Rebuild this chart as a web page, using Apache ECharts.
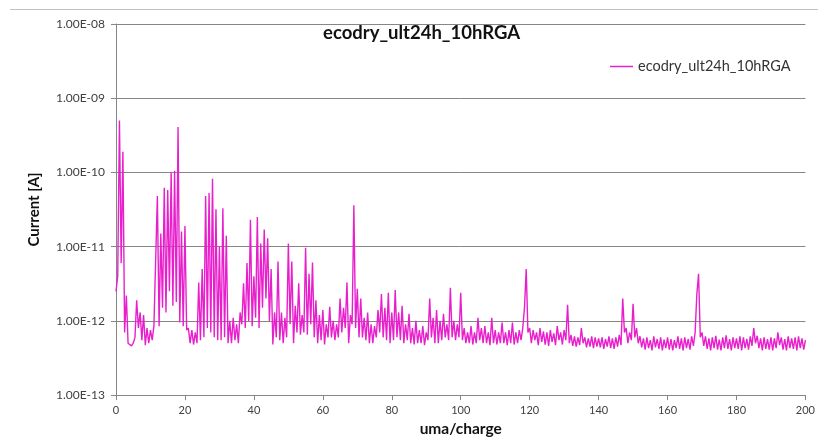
<!DOCTYPE html>
<html>
<head>
<meta charset="utf-8">
<title>ecodry_ult24h_10hRGA</title>
<script src="https://cdn.jsdelivr.net/npm/echarts@6.0.0/dist/echarts.min.js"></script>
<style>
    html, body { margin: 0; padding: 0; background: #fff; }
    #chart1 { width: 818px; height: 442px; }
</style>
</head>
<body>
<div id="chart1"></div>
<script>
// current, in pA (1e-12 A)
// value at each integer uma/charge, 0..200
var peakPA = [
    2.5, 500, 190, 2.2, 0.48, 0.5, 1.9, 1.3, 1.2, 0.8,
    0.75, 0.85, 48, 15, 62, 58, 100, 105, 410, 16,
    19, 0.8, 0.75, 0.7, 3.3, 5, 48, 53, 82, 32,
    10, 33, 14, 1.0, 1.1, 0.9, 1.3, 3.2, 6, 23,
    4, 25, 11, 17, 13, 5, 1.3, 6.3, 1.3, 1.1,
    11, 6.3, 1.6, 3.2, 1.2, 9.7, 4.3, 6.1, 1.9, 1.2,
    1.4, 0.9, 1.55, 1.0, 0.9, 2.0, 1.5, 3.3, 1.2, 36,
    2.7, 2.0, 1.1, 1.3, 0.9, 0.85, 1.4, 2.3, 1.5, 2.4,
    1.3, 2.6, 1.3, 1.6, 0.9, 1.25, 0.8, 1.0, 0.75, 0.85,
    0.7, 2.0, 1.1, 1.4, 1.0, 1.25, 0.9, 2.8, 1.0, 0.9,
    2.4, 0.8, 0.7, 0.85, 0.7, 1.1, 0.8, 0.85, 0.7, 1.1,
    0.75, 0.7, 0.95, 0.7, 0.75, 0.95, 0.7, 0.75, 0.8, 5.0,
    0.8, 0.75, 0.7, 0.8, 0.72, 0.7, 0.75, 0.68, 0.85, 0.7,
    0.75, 1.65, 0.65, 0.62, 0.6, 0.8, 0.6, 0.58, 0.62, 0.6,
    0.58, 0.6, 0.57, 0.62, 0.58, 0.6, 0.65, 2.0, 0.8, 0.7,
    1.7, 0.8, 0.62, 0.58, 0.6, 0.55, 0.62, 0.57, 0.6, 0.56,
    0.6, 0.57, 0.55, 0.62, 0.58, 0.6, 0.57, 0.62, 0.7, 4.3,
    0.7, 0.62, 0.58, 0.6, 0.63, 0.56, 0.6, 0.64, 0.57, 0.6,
    0.58, 0.62, 0.6, 0.57, 0.62, 0.8, 0.63, 0.58, 0.6, 0.57,
    0.6, 0.58, 0.7, 0.6, 0.57, 0.62, 0.58, 0.6, 0.62, 0.58,
    0.55
];
// value between two masses (m + 0.5), 0..199
var valleyPA = [
    4, 6, 0.7, 0.5, 0.46, 0.6, 0.8, 0.55, 0.47, 0.5,
    0.55, 0.9, 0.85, 1.5, 1.3, 2.5, 1.6, 1.8, 0.95, 0.85,
    0.75, 0.5, 0.48, 0.5, 0.55, 0.6, 0.8, 0.7, 0.6, 0.55,
    0.55, 0.6, 0.5, 0.5, 0.55, 0.5, 0.9, 0.8, 1.0, 0.85,
    1.1, 0.8, 1.5, 2.0, 1.0, 0.48, 0.6, 0.55, 0.5, 0.6,
    0.9, 0.5, 0.7, 0.65, 0.7, 0.65, 0.9, 0.6, 0.5, 0.55,
    0.48, 0.6, 0.6, 0.55, 0.6, 0.7, 0.8, 0.5, 0.9, 0.8,
    0.6, 0.6, 0.55, 0.5, 0.5, 0.6, 0.7, 0.6, 0.55, 0.5,
    0.55, 0.6, 0.55, 0.5, 0.55, 0.5, 0.48, 0.5, 0.5, 0.47,
    0.55, 0.6, 0.5, 0.5, 0.55, 0.6, 0.55, 0.6, 0.55, 0.6,
    0.55, 0.5, 0.5, 0.48, 0.5, 0.55, 0.5, 0.5, 0.47, 0.5,
    0.48, 0.5, 0.5, 0.47, 0.5, 0.48, 0.5, 0.55, 1.5, 0.7,
    0.5, 0.55, 0.47, 0.52, 0.48, 0.46, 0.52, 0.47, 0.55, 0.48,
    0.55, 0.5, 0.46, 0.45, 0.47, 0.5, 0.44, 0.45, 0.43, 0.45,
    0.44, 0.42, 0.45, 0.43, 0.42, 0.45, 0.47, 0.7, 0.5, 0.55,
    0.6, 0.5, 0.44, 0.41, 0.43, 0.4, 0.44, 0.42, 0.4, 0.43,
    0.41, 0.4, 0.43, 0.42, 0.4, 0.43, 0.41, 0.46, 2.3, 0.6,
    0.46, 0.42, 0.4, 0.43, 0.41, 0.4, 0.43, 0.42, 0.4, 0.43,
    0.42, 0.4, 0.43, 0.41, 0.46, 0.5, 0.43, 0.4, 0.42, 0.41,
    0.4, 0.43, 0.47, 0.41, 0.4, 0.43, 0.42, 0.4, 0.43, 0.41
];
var yTickLabels = {
    '-13': '1.00E-13',
    '-12': '1.00E-12',
    '-11': '1.00E-11',
    '-10': '1.00E-10',
    '-9': '1.00E-09',
    '-8': '1.00E-08'
};
var seriesName = 'ecodry_ult24h_10hRGA';

$ready(function () {
    chart1();
});
function $ready(fn) {
    if (document.readyState !== 'loading') fn();
    else document.addEventListener('DOMContentLoaded', fn);
}
function chart1() {
    var myChart = echarts.init(document.getElementById('chart1'));
    var font = 'Lato, "Liberation Sans", sans-serif';
    var lineColor = '#e820cc';
    var scan = [];
    for (var m = 0; m < valleyPA.length; m++) {
        scan.push([m, peakPA[m] * 1e-12]);
        scan.push([m + 0.5, valleyPA[m] * 1e-12]);
    }
    scan.push([200, peakPA[200] * 1e-12]);

    var option = {
        animation: false,
        backgroundColor: '#fff',
        textStyle: { fontFamily: font },
        title: {
            text: seriesName,
            left: 318,
            top: 19,
            textStyle: { fontSize: 18.5, fontWeight: 'bold', color: '#111', fontFamily: font }
        },
        legend: {
            data: [{ name: seriesName, icon: 'rect' }],
            left: 605,
            top: 54,
            itemWidth: 23,
            itemHeight: 1.5,
            textStyle: { fontSize: 14.5, color: '#333', fontFamily: font }
        },
        graphic: [{
            type: 'line',
            shape: { x1: 10, y1: 9.5, x2: 818, y2: 9.5 },
            style: { stroke: '#b9c3cc', lineWidth: 1 },
            silent: true
        }],
        grid: {
            left: 116,
            right: 12,
            top: 24,
            bottom: 45
        },
        xAxis: {
            type: 'value',
            min: 0,
            max: 200,
            interval: 20,
            name: 'uma/charge',
            nameLocation: 'middle',
            nameGap: 17,
            nameTextStyle: { fontSize: 15.5, fontWeight: 'bold', color: '#111', fontFamily: font },
            axisLine: { lineStyle: { color: '#868686', width: 1 } },
            axisTick: { show: true, length: 5, lineStyle: { color: '#868686' } },
            axisLabel: { fontSize: 11, color: '#404040', margin: 10 },
            splitLine: { show: false }
        },
        yAxis: {
            type: 'log',
            logBase: 10,
            min: 1e-13,
            max: 1e-8,
            splitNumber: 5,
            name: 'Current [A]',
            nameLocation: 'middle',
            nameGap: 74,
            nameTextStyle: { fontSize: 15, fontWeight: 'bold', color: '#111', fontFamily: font },
            axisLine: { show: true, lineStyle: { color: '#868686', width: 1 } },
            axisTick: { show: true, length: 5, lineStyle: { color: '#868686' } },
            axisLabel: {
                fontSize: 12,
                color: '#404040',
                margin: 11,
                formatter: function (v) {
                    return yTickLabels[String(Math.round(Math.log10(v)))] || '';
                }
            },
            splitLine: { show: true, lineStyle: { color: '#868686', width: 1 } }
        },
        series: [
            {
                name: seriesName,
                type: 'line',
                symbol: 'none',
                showSymbol: false,
                sampling: null,
                lineStyle: { color: lineColor, width: 1.4 },
                itemStyle: { color: lineColor },
                data: scan
            }
        ]
    };
    myChart.setOption(option);
}
</script>
</body>
</html>
